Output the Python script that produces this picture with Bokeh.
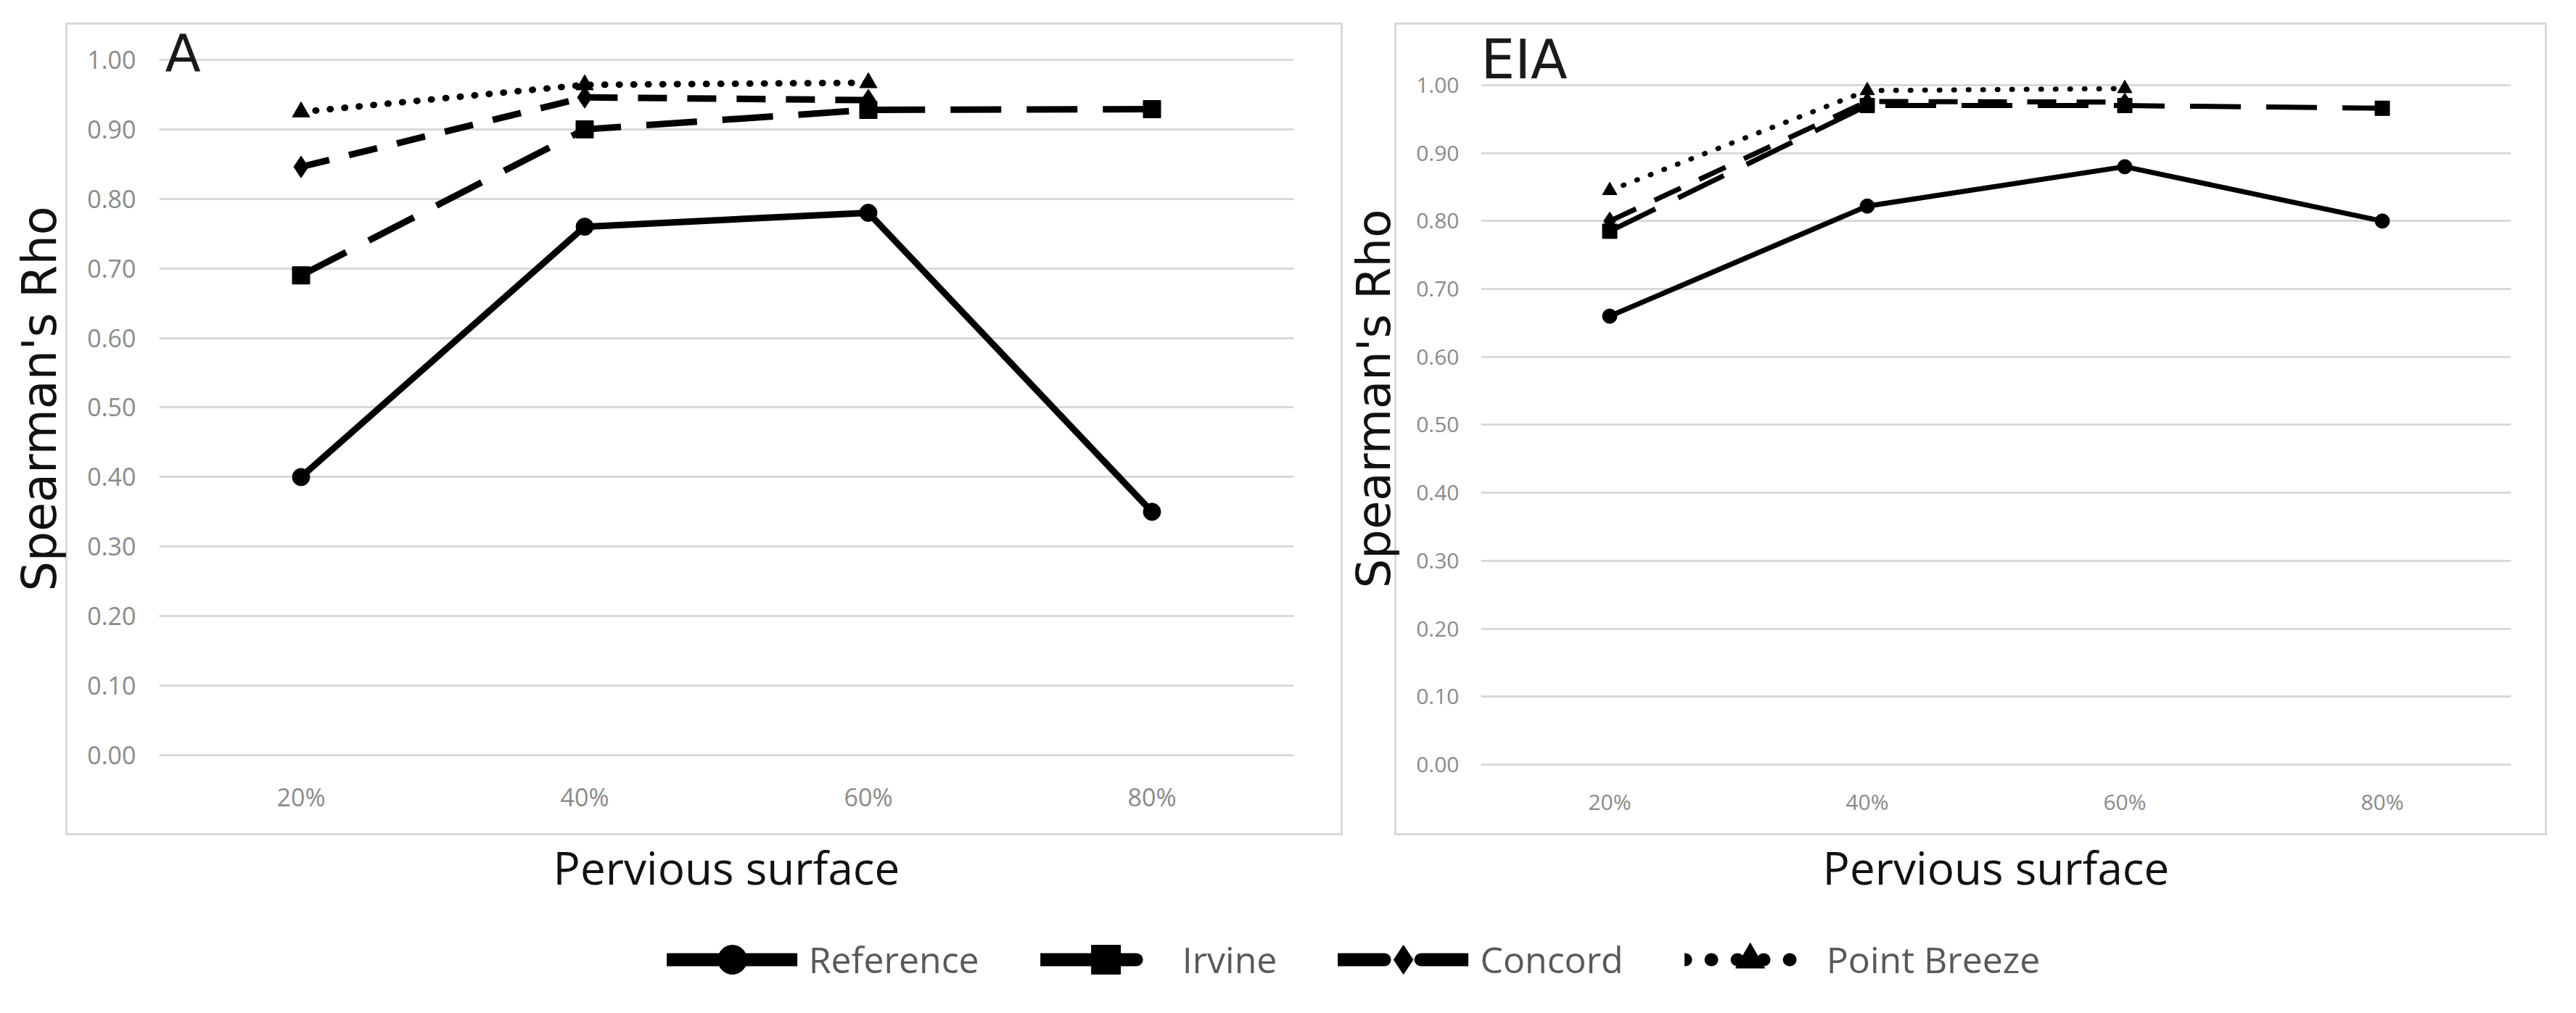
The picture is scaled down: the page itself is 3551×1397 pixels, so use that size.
from bokeh.plotting import figure
from bokeh.models import (FactorRange, Range1d, FixedTicker, NumeralTickFormatter,
                          Label, Legend, LegendItem)
from bokeh.layouts import column, row
from bokeh.embed import file_html
from bokeh.resources import INLINE

# ---------------- data ----------------
categories = ["20%", "40%", "60%", "80%"]
y_ticks = [0.0, 0.1, 0.2, 0.3, 0.4, 0.5, 0.6, 0.7, 0.8, 0.9, 1.0]
series_names = ["Reference", "Irvine", "Concord", "Point Breeze"]

a_reference = [0.40, 0.76, 0.78, 0.35]
a_irvine = [0.69, 0.90, 0.928, 0.929]
a_concord = [0.846, 0.946, 0.942]          # 20%-60%
a_point_breeze = [0.925, 0.964, 0.967]     # 20%-60%

eia_reference = [0.66, 0.822, 0.88, 0.80]
eia_irvine = [0.785, 0.97, 0.97, 0.966]
eia_concord = [0.80, 0.976, 0.975]         # 20%-60%
eia_point_breeze = [0.845, 0.992, 0.995]   # 20%-60%

# ---------------- styles ----------------
styles = {
    "Reference": dict(dash="solid", marker="circle", legend_dash="solid"),
    "Irvine": dict(dash="70 35", marker="square", legend_dash="132 200"),
    "Concord": dict(dash="40 28", marker="diamond", legend_dash="64 50"),
    "Point Breeze": dict(dash="1 19", marker="triangle", legend_dash="1 35"),
}

GRID = "#d9d9d9"


def box_css(l, t, r, b, w=3):
    g = "linear-gradient(%s,%s)" % (GRID, GRID)
    return {
        "background-color": "white",
        "background-image": ", ".join([g] * 4),
        "background-position": "%dpx %dpx, %dpx %dpx, %dpx %dpx, %dpx %dpx" % (
            l - 1, t - 1, l - 1, b - 1, l - 1, t - 1, r - 1, t - 1),
        "background-size": "%dpx %dpx, %dpx %dpx, %dpx %dpx, %dpx %dpx" % (
            r - l + w, w, r - l + w, w, w, b - t + w, w, b - t + w),
        "background-repeat": "no-repeat",
    }


def make_panel(cfg, data):
    p = figure(width=cfg["width"], height=1240,
               x_range=FactorRange(factors=categories),
               y_range=Range1d(cfg["y0"], cfg["y1"]),
               output_backend="svg", toolbar_location=None,
               min_border_left=cfg["ml"], min_border_right=cfg["mr"],
               min_border_top=40, min_border_bottom=180)
    p.background_fill_color = "white"
    p.border_fill_color = None
    p.outline_line_color = None
    p.styles = box_css(*cfg["box"])

    p.xgrid.grid_line_color = None
    p.ygrid.grid_line_color = GRID
    p.ygrid.grid_line_width = 3

    for ax in (p.xaxis, p.yaxis):
        ax.axis_line_color = None
        ax.major_tick_line_color = None
        ax.minor_tick_line_color = None
        ax.major_tick_out = 0
        ax.major_tick_in = 0
        ax.minor_tick_out = 0
        ax.minor_tick_in = 0
        ax.major_label_text_font = "Open Sans"
        ax.major_label_text_color = "#8a8a8a"

    p.yaxis.ticker = FixedTicker(ticks=y_ticks)
    p.yaxis.formatter = NumeralTickFormatter(format="0.00")
    p.yaxis.major_label_text_font_size = cfg["tick_fs"]
    p.yaxis.major_label_standoff = cfg["y_std"]
    p.yaxis.axis_label = "Spearman's Rho"
    p.yaxis.axis_label_text_font = "DejaVu Sans"
    p.yaxis.axis_label_text_font_style = "normal"
    p.yaxis.axis_label_text_font_size = cfg["ytitle_fs"]
    p.yaxis.axis_label_text_color = "#111111"
    p.yaxis.axis_label_standoff = cfg["ytitle_std"]

    p.xaxis.major_label_text_font_size = cfg["tick_fs"]
    p.xaxis.major_label_standoff = cfg["x_std"]
    p.xaxis.axis_label = "Pervious surface"
    p.xaxis.axis_label_text_font = "Open Sans"
    p.xaxis.axis_label_text_font_style = "normal"
    p.xaxis.axis_label_text_font_size = "62px"
    p.xaxis.axis_label_text_color = "#111111"
    p.xaxis.axis_label_standoff = cfg["xtitle_std"]

    for name, vals in zip(series_names, data):
        st = styles[name]
        xs = categories[:len(vals)]
        p.line(xs, vals, line_color="black", line_width=cfg["lw"],
               line_dash=st["dash"], line_join="round",
               line_cap="round" if name == "Point Breeze" else "butt")
        p.scatter(xs, vals, marker=st["marker"],
                  size=cfg["ms"] * (1.25 if st["marker"] == "diamond" else 1),
                  fill_color="black", line_color="black")

    p.add_layout(Label(x=0, y=1.0, text=cfg["label"], x_offset=cfg["lx"], y_offset=cfg["ly"],
                       text_font="DejaVu Sans", text_font_size=cfg["label_fs"],
                       text_baseline="middle", text_align="left",
                       text_color="#1a1a1a"))
    return p


# panel geometry (pixels inside each figure): frame top 40, frame bottom 1060
cfg_a = dict(width=1854, ml=219, mr=71, y0=-0.01875, y1=1.04375,
             box=(91, 32, 1849, 1150),
             tick_fs="34px", y_std=32, x_std=16, ytitle_fs="65px", ytitle_std=25,
             xtitle_std=29, lw=9, ms=24, label="A", lx=8, ly=9, label_fs="72px")
cfg_e = dict(width=1681, ml=186, mr=74, y0=-0.00533, y1=1.0821,
             box=(69, 32, 1655, 1150),
             tick_fs="30px", y_std=30, x_std=25, ytitle_fs="64px", ytitle_std=18,
             xtitle_std=25, lw=7, ms=20, label="EIA", lx=0, ly=35, label_fs="74px")

p1 = make_panel(cfg_a, [a_reference, a_irvine, a_concord, a_point_breeze])
p2 = make_panel(cfg_e, [eia_reference, eia_irvine, eia_concord, eia_point_breeze])

# ---------------- shared legend ----------------
p3 = figure(width=3535, height=141, x_range=Range1d(0, 1), y_range=Range1d(0, 1),
            x_axis_type=None, y_axis_type=None,
            output_backend="svg", toolbar_location=None,
            min_border_left=196, min_border_right=0, min_border_top=24, min_border_bottom=0)
p3.grid.visible = False
p3.outline_line_color = None
p3.background_fill_color = "white"
p3.border_fill_color = "white"

items = []
for name in series_names:
    st = styles[name]
    # data kept outside the visible range: only the legend glyph shows
    lr = p3.line(x=[-5, -4], y=[-5, -5], line_color="black", line_width=18,
                 line_dash=st["legend_dash"], line_cap="round")
    sr = p3.scatter(x=[-5], y=[-5], marker=st["marker"], fill_color="black", line_color="black")
    items.append(LegendItem(label=name, renderers=[lr, sr]))

legend = Legend(items=items, orientation="horizontal", location="center",
                glyph_width=180, glyph_height=100, label_standoff=16, spacing=84,
                padding=0, margin=0, border_line_color=None, background_fill_alpha=0,
                label_text_font="Open Sans", label_text_font_size="50px",
                label_text_color="#595959")
p3.add_layout(legend, "center")

layout = column(row(p1, p2), p3)
open("out.html", "w").write(file_html(layout, INLINE))
